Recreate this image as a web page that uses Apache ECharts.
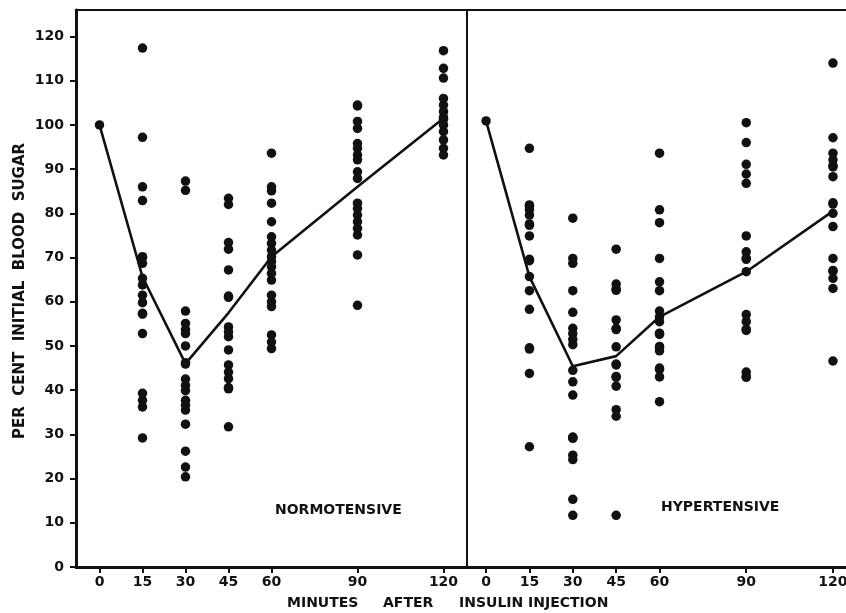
<!DOCTYPE html>
<html><head><meta charset="utf-8">
<script src="https://cdn.jsdelivr.net/npm/echarts@6/dist/echarts.min.js"></script>
<style>html,body{margin:0;padding:0;background:#fff}#c{width:846px;height:613px}</style>
</head><body><div id="c"></div>
<script>
// tick labels
const xTicks = [0, 15, 30, 45, 60, 90, 120];
const yTicks = [0, 10, 20, 30, 40, 50, 60, 70, 80, 90, 100, 110, 120];
const minutes = [0, 15, 30, 45, 60, 90, 120];

// NORMOTENSIVE (per cent initial blood sugar)
const norm0 = [100];
const norm15 = [117.4, 97.2, 86.0, 82.9, 70.2, 70.0, 68.7, 65.3, 63.8, 61.5, 59.8, 57.4, 57.2, 52.8, 39.3, 37.7, 36.2, 29.2];
const norm30 = [87.3, 85.2, 57.9, 55.1, 53.7, 52.8, 50.0, 46.2, 45.9, 42.5, 41.1, 39.9, 37.7, 36.6, 35.5, 32.3, 26.2, 22.6, 20.4];
const norm45 = [83.4, 82.0, 73.4, 71.9, 67.2, 61.3, 61.0, 54.3, 53.2, 52.1, 49.1, 45.7, 44.1, 42.6, 40.6, 40.3, 31.7];
const norm60 = [93.6, 86.0, 85.1, 82.3, 78.1, 74.7, 73.2, 71.7, 70.2, 69.1, 67.9, 66.4, 64.9, 61.5, 60.0, 58.9, 52.5, 50.9, 49.4];
const norm90 = [104.5, 104.3, 100.8, 99.2, 95.8, 94.7, 93.2, 92.1, 89.4, 87.9, 82.3, 81.1, 79.6, 78.1, 76.6, 75.1, 70.6, 59.2];
const norm120 = [116.8, 112.8, 110.6, 106.0, 104.5, 103.0, 101.7, 101.3, 100.0, 98.5, 96.6, 94.7, 93.2];
const normMean = [100, 65.6, 46.0, 57.5, 70.2, 86.0, 101.5];

// HYPERTENSIVE
const hyp0 = [100.9];
const hyp15 = [94.7, 81.9, 81.6, 80.8, 79.6, 77.6, 77.3, 74.9, 69.6, 69.3, 65.7, 62.5, 58.3, 49.6, 49.3, 43.8, 27.2];
const hyp30 = [78.9, 69.8, 68.7, 62.5, 57.6, 54.0, 52.8, 51.5, 50.3, 44.5, 41.9, 38.9, 29.4, 29.1, 29.2, 25.3, 24.3, 15.3, 11.7];
const hyp45 = [71.9, 64.0, 62.9, 62.6, 55.9, 54.0, 53.7, 49.8, 45.9, 45.7, 43.1, 42.9, 40.9, 35.6, 34.1, 11.7];
const hyp60 = [93.6, 80.8, 77.9, 69.8, 64.5, 62.5, 57.9, 56.6, 55.5, 52.9, 52.6, 49.9, 49.6, 48.9, 45.0, 44.7, 43.0, 37.4];
const hyp90 = [100.5, 96.0, 91.1, 88.9, 86.8, 74.9, 71.3, 69.9, 69.6, 66.8, 57.1, 55.5, 53.8, 53.5, 44.1, 43.1, 42.9];
const hyp120 = [114.0, 97.1, 93.6, 92.1, 90.8, 90.5, 88.3, 82.4, 82.1, 80.0, 77.0, 69.8, 67.1, 66.9, 65.3, 63.0, 46.6];
const hypMean = [100.9, 65.7, 45.4, 47.7, 56.6, 66.8, 80.5];

function pts(cols) {
  const out = [];
  cols.forEach((arr, i) => arr.forEach(v => out.push([minutes[i], v])));
  return out;
}
const normPts = pts([norm0, norm15, norm30, norm45, norm60, norm90, norm120]);
const hypPts = pts([hyp0, hyp15, hyp30, hyp45, hyp60, hyp90, hyp120]);
const normLine = minutes.map((m, i) => [m, normMean[i]]);
const hypLine = minutes.map((m, i) => [m, hypMean[i]]);

const INK = '#111111';
const FONT = 'DejaVu Sans';

function xAxis(gi, min, max) {
  return {
    type: 'value', gridIndex: gi, min: min, max: max,
    axisLine: { show: true, onZero: false, lineStyle: { color: INK, width: 3 } },
    axisTick: { show: true, customValues: xTicks, length: 6, inside: false, lineStyle: { color: INK, width: 2 } },
    axisLabel: { show: true, customValues: xTicks, margin: 8, color: INK, fontSize: 14, fontWeight: 'bold', fontFamily: FONT },
    splitLine: { show: false }
  };
}

const chart = echarts.init(document.getElementById('c'), null, { renderer: 'canvas' });
chart.setOption({
  backgroundColor: '#fff',
  animation: false,
  grid: [
    { left: 76, top: 10, width: 391, height: 557, show: true, borderColor: INK, borderWidth: 2,
      backgroundColor: 'transparent', containLabel: false, outerBoundsMode: 'none' },
    { left: 467, top: 10, width: 381, height: 557, show: true, borderColor: INK, borderWidth: 2,
      backgroundColor: 'transparent', containLabel: false, outerBoundsMode: 'none' }
  ],
  xAxis: [xAxis(0, -8.2, 128.2), xAxis(1, -6.6, 125.2)],
  yAxis: [
    {
      type: 'value', gridIndex: 0, min: 0, max: 126, interval: 10,
      axisLine: { show: true, onZero: false, lineStyle: { color: INK, width: 3 } },
      axisTick: { show: true, customValues: yTicks, length: 6, lineStyle: { color: INK, width: 2 } },
      axisLabel: { show: true, customValues: yTicks, margin: 12, color: INK, fontSize: 14, fontWeight: 'bold', fontFamily: FONT,
        formatter: v => (yTicks.indexOf(v) >= 0 ? String(v) : '') },
      splitLine: { show: false }
    },
    { type: 'value', gridIndex: 1, min: 0, max: 126, show: false, axisLine: { onZero: false }, splitLine: { show: false } }
  ],
  series: [
    { type: 'line', xAxisIndex: 0, yAxisIndex: 0, data: normLine, showSymbol: false, symbol: 'none',
      lineStyle: { color: INK, width: 2.6 }, z: 2 },
    { type: 'scatter', xAxisIndex: 0, yAxisIndex: 0, data: normPts, symbol: 'circle', symbolSize: 9.5,
      itemStyle: { color: INK, opacity: 1 }, z: 3 },
    { type: 'line', xAxisIndex: 1, yAxisIndex: 1, data: hypLine, showSymbol: false, symbol: 'none',
      lineStyle: { color: INK, width: 2.6 }, z: 2 },
    { type: 'scatter', xAxisIndex: 1, yAxisIndex: 1, data: hypPts, symbol: 'circle', symbolSize: 9.5,
      itemStyle: { color: INK, opacity: 1 }, z: 3 }
  ],
  graphic: [
    { type: 'text', left: 275, top: 503, style: { text: 'NORMOTENSIVE', fill: INK, font: 'bold 14px "DejaVu Sans"' } },
    { type: 'text', left: 661, top: 500, style: { text: 'HYPERTENSIVE', fill: INK, font: 'bold 14px "DejaVu Sans"' } },
    { type: 'text', left: 287, top: 596, style: { text: 'MINUTES', fill: INK, font: 'bold 14px "DejaVu Sans"' } },
    { type: 'text', left: 383, top: 596, style: { text: 'AFTER', fill: INK, font: 'bold 14px "DejaVu Sans"' } },
    { type: 'text', left: 459, top: 596, style: { text: 'INSULIN', fill: INK, font: 'bold 14px "DejaVu Sans"' } },
    { type: 'text', left: 528, top: 596, style: { text: 'INJECTION', fill: INK, font: 'bold 14px "DejaVu Sans"' } },
    { type: 'text', x: 20, y: 291, rotation: Math.PI / 2,
      style: { text: 'PER  CENT  INITIAL  BLOOD  SUGAR', fill: INK, font: 'bold 15px "DejaVu Sans"', align: 'center', verticalAlign: 'middle' } }
  ]
});
</script></body></html>
